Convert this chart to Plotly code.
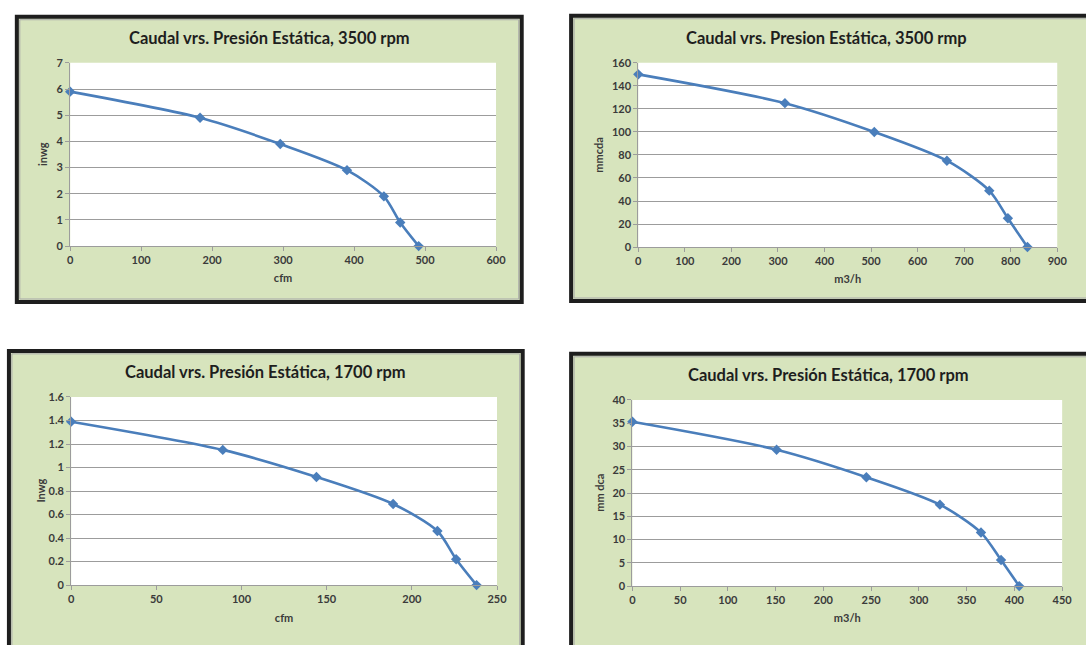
import plotly.graph_objects as go

W, H = 1086, 645

# ---- data ----
cfm_3500 = [0, 183, 296, 390, 442, 465, 491]
inwg_3500 = [5.9, 4.9, 3.9, 2.9, 1.9, 0.9, 0.0]

m3h_3500 = [0, 315, 507, 663, 754, 794, 836]
mmcda_3500 = [150, 125, 100, 75, 49, 25, 0]

cfm_1700 = [0, 89, 144, 189, 215, 226, 238]
inwg_1700 = [1.39, 1.15, 0.92, 0.69, 0.46, 0.22, 0.0]

m3h_1700 = [0, 151, 245, 322, 365, 386, 405]
mmdca_1700 = [35.3, 29.3, 23.4, 17.5, 11.5, 5.6, 0.0]

titles = [
    "Caudal vrs. Presión Estática, 3500 rpm",
    "Caudal vrs. Presion Estática, 3500 rmp",
    "Caudal vrs. Presión Estática, 1700 rpm",
    "Caudal vrs. Presión Estática, 1700 rpm",
]
x_titles = ["cfm", "m3/h", "cfm", "m3/h"]
y_titles = ["inwg", "mmcda", "Inwg", "mm dca"]
x_ranges = [(0, 600, 100), (0, 900, 100), (0, 250, 50), (0, 450, 50)]
y_ranges = [(0, 7, 1), (0, 160, 20), (0, 1.6, 0.2), (0, 40, 5)]
series = [(cfm_3500, inwg_3500), (m3h_3500, mmcda_3500),
          (cfm_1700, inwg_1700), (m3h_1700, mmdca_1700)]

# ---- layout geometry (pixels of the 1086x645 frame) ----
plot_px = [(68, 499, 57, 244), (643, 1067, 57, 245),
           (69, 500, 398, 590), (637, 1072, 401, 591)]
frame_px = [(12, 527, 8, 303), (573, 1200, 7, 302),
            (4, 528, 349, 720), (573, 1200, 352, 720)]
title_px = [(270, 32), (833, 32), (266, 373), (836, 376)]
ytitle_px = [40, 603, 37, 603]

BLUE = "#4A7EBB"
GREEN = "#D7E4BD"
GRID = "#9C9C9C"
TXT = "#3A3A3A"
FONT = "Lato"


def px_x(x):
    return x / W


def px_y(y):
    return 1 - y / H


fig = go.Figure()
frames = []
whites = []
annotations = []
layout_axes = {}

for i in range(4):
    n = "" if i == 0 else str(i + 1)
    xs, ys = series[i]
    fig.add_trace(go.Scatter(
        x=xs, y=ys, mode="lines+markers",
        line=dict(color=BLUE, width=2.6, shape="spline", smoothing=0.8),
        marker=dict(symbol="diamond", size=8, color=BLUE),
        xaxis="x" + n, yaxis="y" + n, showlegend=False, cliponaxis=False,
    ))

    x0, x1, y0, y1 = plot_px[i]
    xr, yr = x_ranges[i], y_ranges[i]
    layout_axes["xaxis" + n] = dict(
        domain=[px_x(x0), px_x(x1)], anchor="y" + n,
        range=[xr[0], xr[1]], dtick=xr[2], tick0=0,
        showgrid=False, zeroline=False,
        showline=True, linecolor=GRID, linewidth=1,
        ticks="outside", ticklen=4, tickcolor=GRID,
        tickfont=dict(family=FONT, size=11, color=TXT, weight="bold"),
        title=dict(text=x_titles[i], standoff=9,
                   font=dict(family=FONT, size=11, color=TXT, weight="bold")),
        fixedrange=True,
    )
    layout_axes["yaxis" + n] = dict(
        domain=[px_y(y1), px_y(y0)], anchor="x" + n,
        range=[yr[0], yr[1]], dtick=yr[2], tick0=0,
        showgrid=True, gridcolor=GRID, gridwidth=1.2, zeroline=False,
        showline=True, linecolor=GRID, linewidth=1,
        ticks="outside", ticklen=4, tickcolor=GRID,
        tickfont=dict(family=FONT, size=11, color=TXT, weight="bold"),
        fixedrange=True,
    )
    whites.append(dict(type="rect", xref="paper", yref="paper",
                       x0=px_x(x0), x1=px_x(x1), y0=px_y(y1), y1=px_y(y0),
                       fillcolor="white", line=dict(width=0), layer="below"))
    fx0, fx1, fy0, fy1 = frame_px[i]
    frames.append(dict(type="rect", xref="paper", yref="paper",
                       x0=px_x(fx0 + 2), x1=px_x(fx1 - 2),
                       y0=px_y(fy1 - 2), y1=px_y(fy0 + 2),
                       fillcolor=GREEN, line=dict(color="#1E1E1E", width=4),
                       layer="below"))
    frames.append(dict(type="rect", xref="paper", yref="paper",
                       x0=px_x(fx0 + 5), x1=px_x(fx1 - 5),
                       y0=px_y(fy1 - 5), y1=px_y(fy0 + 5),
                       fillcolor="rgba(0,0,0,0)", line=dict(color="#A8A8A8", width=1),
                       layer="below"))
    tx, ty = title_px[i]
    annotations.append(dict(text=titles[i], xref="paper", yref="paper",
                            x=px_x(tx), y=px_y(ty), xanchor="center", yanchor="middle",
                            showarrow=False,
                            font=dict(family=FONT, size=16.5, color="#1E1E1E", weight="bold")))
    annotations.append(dict(text=y_titles[i], xref="paper", yref="paper",
                            x=px_x(ytitle_px[i]), y=px_y((y0 + y1) / 2),
                            xanchor="center", yanchor="middle", textangle=-90,
                            showarrow=False,
                            font=dict(family=FONT, size=11, color=TXT, weight="bold")))

fig.update_layout(
    width=W, height=H,
    margin=dict(l=0, r=0, t=0, b=0),
    paper_bgcolor="white", plot_bgcolor="rgba(0,0,0,0)",
    shapes=frames + whites,
    annotations=annotations,
    **layout_axes,
)

fig.write_html(
    "out.html",
    config={"displayModeBar": False},
    post_script=(
        "document.documentElement.style.margin='0';"
        "document.body.style.margin='0';"
        "document.body.style.overflow='hidden';"
    ),
)
